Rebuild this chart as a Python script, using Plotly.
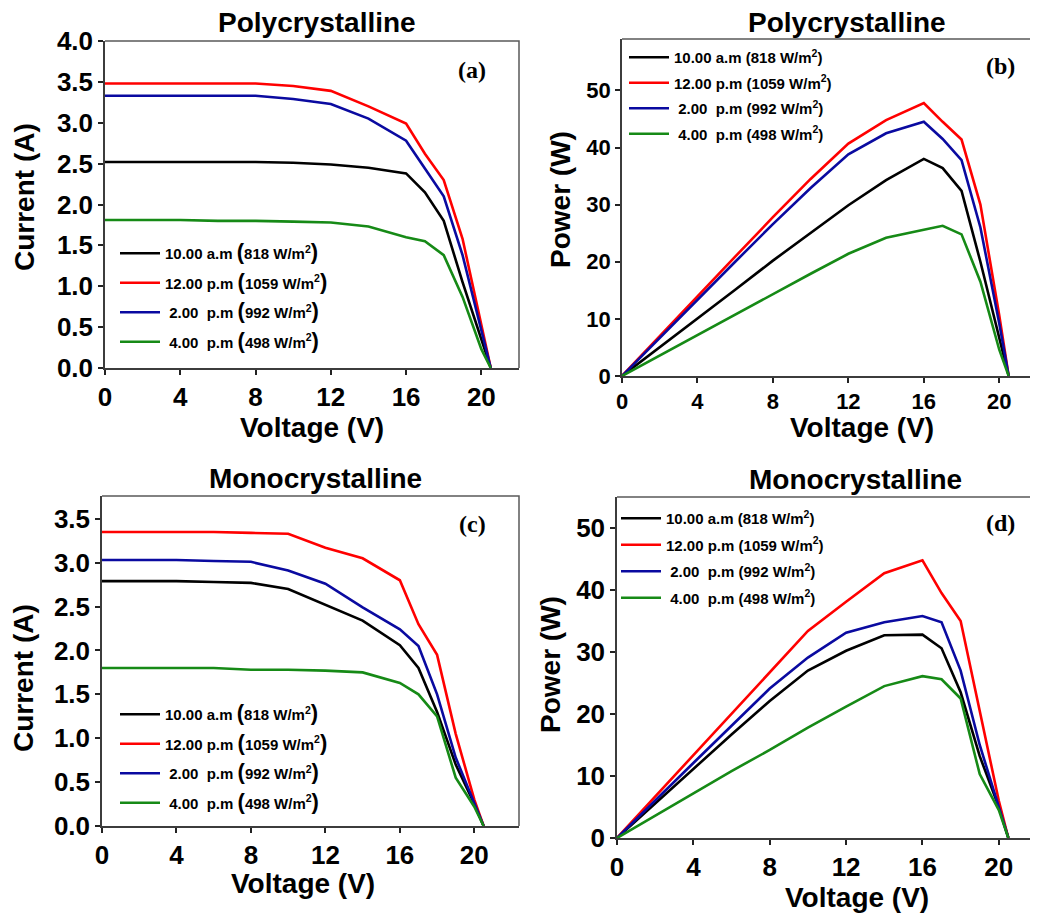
import plotly.graph_objects as go

# page is 1038x916; the html body adds an 8 px margin, so the figure is drawn at (8, 8)
PAGE_W, PAGE_H = 1038, 916
OFF = 8
W, H = PAGE_W - OFF, PAGE_H - OFF

# ---------------- data ----------------
voltage = [0, 2, 4, 6, 8, 10, 12, 14, 16, 17, 18, 19, 20, 20.5]

series_names = [
    "10.00 a.m (818 W/m<sup>2</sup>)",
    "12.00 p.m (1059 W/m<sup>2</sup>)",
    "\u00a02.00\u00a0 p.m (992 W/m<sup>2</sup>)",
    "\u00a04.00\u00a0 p.m (498 W/m<sup>2</sup>)",
]
series_names_big = [
    "10.00 a.m <span style='font-size:22px'>(</span>818 W/m<sup>2</sup><span style='font-size:22px'>)</span>",
    "12.00 p.m <span style='font-size:22px'>(</span>1059 W/m<sup>2</sup><span style='font-size:22px'>)</span>",
    "\u00a02.00\u00a0 p.m <span style='font-size:22px'>(</span>992 W/m<sup>2</sup><span style='font-size:22px'>)</span>",
    "\u00a04.00\u00a0 p.m <span style='font-size:22px'>(</span>498 W/m<sup>2</sup><span style='font-size:22px'>)</span>",
]
colors = ["#000000", "#FF0000", "#0A0AA0", "#168A16"]

# Polycrystalline I-V (A)
poly_I_10am = [2.52, 2.52, 2.52, 2.52, 2.52, 2.51, 2.49, 2.45, 2.38, 2.15, 1.80, 1.05, 0.35, 0.0]
poly_I_12pm = [3.48, 3.48, 3.48, 3.48, 3.48, 3.45, 3.39, 3.20, 2.99, 2.62, 2.30, 1.58, 0.53, 0.0]
poly_I_2pm = [3.33, 3.33, 3.33, 3.33, 3.33, 3.29, 3.23, 3.05, 2.78, 2.44, 2.10, 1.38, 0.46, 0.0]
poly_I_4pm = [1.81, 1.81, 1.81, 1.80, 1.80, 1.79, 1.78, 1.73, 1.60, 1.55, 1.38, 0.87, 0.23, 0.0]

# Polycrystalline P-V (W)
poly_P_10am = [0, 5.0, 10.1, 15.1, 20.2, 25.1, 29.9, 34.3, 38.0, 36.4, 32.4, 20.0, 7.0, 0]
poly_P_12pm = [0, 7.0, 13.9, 20.9, 27.8, 34.5, 40.7, 44.8, 47.8, 44.5, 41.4, 30.0, 10.6, 0]
poly_P_2pm = [0, 6.7, 13.3, 20.0, 26.6, 32.9, 38.8, 42.5, 44.5, 41.5, 37.8, 26.0, 9.2, 0]
poly_P_4pm = [0, 3.6, 7.2, 10.8, 14.4, 17.9, 21.4, 24.2, 25.6, 26.3, 24.8, 16.5, 4.6, 0]

# Monocrystalline I-V (A)
mono_I_10am = [2.79, 2.79, 2.79, 2.78, 2.77, 2.70, 2.52, 2.34, 2.06, 1.80, 1.30, 0.70, 0.25, 0.0]
mono_I_12pm = [3.35, 3.35, 3.35, 3.35, 3.34, 3.33, 3.17, 3.05, 2.80, 2.30, 1.95, 1.05, 0.30, 0.0]
mono_I_2pm = [3.03, 3.03, 3.03, 3.02, 3.01, 2.91, 2.76, 2.49, 2.24, 2.05, 1.50, 0.78, 0.25, 0.0]
mono_I_4pm = [1.80, 1.80, 1.80, 1.80, 1.78, 1.78, 1.77, 1.75, 1.63, 1.50, 1.25, 0.55, 0.22, 0.0]

# Monocrystalline P-V (W)
mono_P_10am = [0, 5.6, 11.1, 16.7, 22.1, 27.0, 30.2, 32.7, 32.8, 30.6, 23.5, 13.2, 5.0, 0]
mono_P_12pm = [0, 6.7, 13.4, 20.1, 26.8, 33.4, 38.1, 42.7, 44.8, 39.5, 35.0, 20.5, 6.0, 0]
mono_P_2pm = [0, 6.1, 12.1, 18.1, 24.1, 29.1, 33.1, 34.8, 35.8, 34.8, 27.0, 15.0, 5.0, 0]
mono_P_4pm = [0, 3.6, 7.2, 10.8, 14.2, 17.8, 21.2, 24.5, 26.1, 25.6, 22.5, 10.3, 4.5, 0]

x_ticks = [0, 4, 8, 12, 16, 20]

# ---------------- layout helpers (page pixel -> paper fraction) ----------------
def dx(px):
    return (px - OFF) / W

def dy(py):
    return 1 - (py - OFF) / H

FONT = "Liberation Sans, Arial, sans-serif"
SERIF = "Liberation Serif, Times New Roman, serif"

panels = [
    dict(box=(105, 41, 519, 368), xr=[0, 22], yr=[0, 4.0],
         yt=dict(tickvals=[0, 0.5, 1, 1.5, 2, 2.5, 3, 3.5, 4], tickformat=".1f"),
         ys=[poly_I_10am, poly_I_12pm, poly_I_2pm, poly_I_4pm], names=series_names_big,
         tickfs=26, leg=(115, 237), legfs=15, gap=7, label="(a)", lab=(472, 70),
         title="Polycrystalline", tpos=(317, 22), ytitle="Current (A)", ytpos=(24, 197),
         xtpos=(312, 427)),
    dict(box=(622, 39, 1037, 376), xr=[0, 22], yr=[0, 59],
         yt=dict(tickvals=[0, 10, 20, 30, 40, 50]),
         ys=[poly_P_10am, poly_P_12pm, poly_P_2pm, poly_P_4pm], names=series_names,
         tickfs=22, leg=(624, 41), legfs=15, gap=3, label="(b)", lab=(1000, 66),
         title="Polycrystalline", tpos=(847, 22), ytitle="Power (W)", ytpos=(561, 200),
         xtpos=(862, 427)),
    dict(box=(102, 496, 519, 826), xr=[0, 22.4], yr=[0, 3.76],
         yt=dict(tickvals=[0, 0.5, 1, 1.5, 2, 2.5, 3, 3.5], tickformat=".1f"),
         ys=[mono_I_10am, mono_I_12pm, mono_I_2pm, mono_I_4pm], names=series_names_big,
         tickfs=26, leg=(115, 698), legfs=15, gap=7, label="(c)", lab=(472, 524),
         title="Monocrystalline", tpos=(315, 478), ytitle="Current (A)", ytpos=(23, 678),
         xtpos=(303, 883)),
    dict(box=(617, 497, 1037, 838), xr=[0, 22], yr=[0, 55],
         yt=dict(tickvals=[0, 10, 20, 30, 40, 50]),
         ys=[mono_P_10am, mono_P_12pm, mono_P_2pm, mono_P_4pm], names=series_names,
         tickfs=26, leg=(616, 502), legfs=15, gap=4, label="(d)", lab=(1000, 523),
         title="Monocrystalline", tpos=(855, 479), ytitle="Power (W)", ytpos=(550, 665),
         xtpos=(857, 897)),
]

fig = go.Figure()
layout = dict(
    width=W, height=H, margin=dict(l=0, r=0, t=0, b=0),
    paper_bgcolor="white", plot_bgcolor="white",
    font=dict(family=FONT, color="black"),
    annotations=[], shapes=[],
)

for i, p in enumerate(panels):
    n = "" if i == 0 else str(i + 1)
    xa, ya = "x" + n, "y" + n
    lg = "legend" + n
    l, t, r, b = p["box"]
    for k in range(4):
        fig.add_trace(go.Scatter(
            x=voltage, y=p["ys"][k], mode="lines", name=p["names"][k],
            line=dict(color=colors[k], width=2.6),
            xaxis=xa, yaxis=ya, legend=lg, legendgroup=f"g{i}{k}",
        ))
    axis_common = dict(
        showgrid=False, zeroline=False, showline=True, linecolor="#3c3c3c", linewidth=1.5,
        ticks="outside", ticklen=5, tickwidth=1.5, tickcolor="#222222",
        tickfont=dict(family=FONT, size=p["tickfs"], weight="bold", color="black"),
        automargin=False, fixedrange=True,
    )
    layout["xaxis" + n] = dict(
        axis_common, domain=[dx(l), dx(r)], range=p["xr"], tickvals=x_ticks,
        anchor=ya,
    )
    layout["yaxis" + n] = dict(
        axis_common, domain=[dy(b), dy(t)], range=p["yr"], anchor=xa, **p["yt"],
    )
    layout[lg] = dict(
        x=dx(p["leg"][0]), y=dy(p["leg"][1]), xanchor="left", yanchor="top",
        bgcolor="rgba(0,0,0,0)", borderwidth=0, itemwidth=40,
        font=dict(family=FONT, size=p["legfs"], weight="bold", color="black"),
        tracegroupgap=p["gap"], traceorder="grouped", itemclick=False, itemdoubleclick=False,
    )
    # top/right frame
    layout["shapes"].append(dict(
        type="path", xref=xa + " domain", yref=ya + " domain",
        path="M 0,1 L 1,1 L 1,0", line=dict(color="#5a5a5a", width=1.5), layer="below",
    ))
    # panel label
    layout["annotations"].append(dict(
        text="<b>" + p["label"] + "</b>", x=dx(p["lab"][0]), y=dy(p["lab"][1]),
        xref="paper", yref="paper", showarrow=False, xanchor="center", yanchor="middle",
        font=dict(family=SERIF, size=24, color="black"),
    ))
    # title
    layout["annotations"].append(dict(
        text=p["title"], x=dx(p["tpos"][0]), y=dy(p["tpos"][1]),
        xref="paper", yref="paper", showarrow=False, xanchor="center", yanchor="middle",
        font=dict(family=FONT, size=28, weight="bold", color="black"),
    ))
    # axis titles
    layout["annotations"].append(dict(
        text="Voltage (V)", x=dx(p["xtpos"][0]), y=dy(p["xtpos"][1]),
        xref="paper", yref="paper", showarrow=False, xanchor="center", yanchor="middle",
        font=dict(family=FONT, size=28, weight="bold", color="black"),
    ))
    layout["annotations"].append(dict(
        text=p["ytitle"], x=dx(p["ytpos"][0]), y=dy(p["ytpos"][1]), textangle=-90,
        xref="paper", yref="paper", showarrow=False, xanchor="center", yanchor="middle",
        font=dict(family=FONT, size=28, weight="bold", color="black"),
    ))

fig.update_layout(**layout)
fig.write_html("out.html")
